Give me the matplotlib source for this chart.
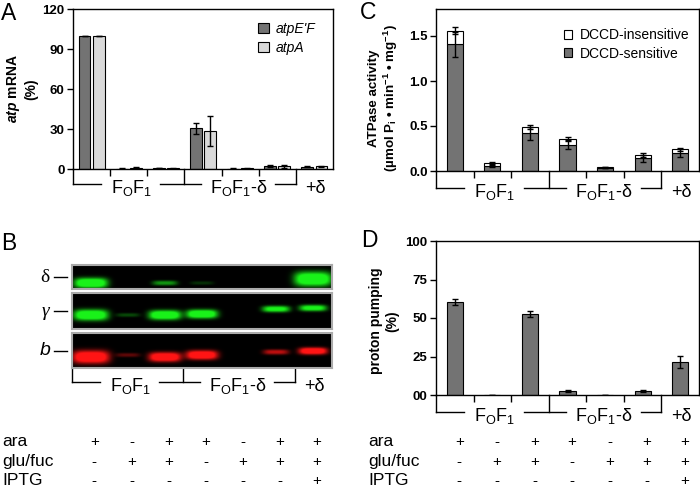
import numpy as np
import matplotlib
matplotlib.use("Agg")
import matplotlib.pyplot as plt
import matplotlib.transforms as mtransforms

plt.rcParams['font.family'] = ['Liberation Sans', 'DejaVu Sans']
plt.rcParams['mathtext.fontset'] = 'custom'
plt.rcParams['mathtext.rm'] = 'Liberation Sans'
plt.rcParams['mathtext.it'] = 'Liberation Sans:italic'
plt.rcParams['mathtext.bf'] = 'Liberation Sans:bold'
plt.rcParams['mathtext.bfit'] = 'Liberation Sans:bold:italic'

# ---- data ----
groups = np.arange(7)

# A: atp mRNA (%)
atpEF = [100, 0.3, 0.8, 30.5, 0.2, 2.0, 1.8]
atpEF_err = [0, 0.3, 0.3, 4.0, 0.2, 0.8, 0.5]
atpA = [100, 0.8, 0.6, 28.5, 0.4, 2.0, 2.0]
atpA_err = [0, 0.4, 0.3, 11.0, 0.2, 1.0, 0.6]

# C: ATPase activity
dccd_sens = [1.41, 0.06, 0.42, 0.29, 0.03, 0.14, 0.20]
dccd_sens_err = [0.14, 0.01, 0.07, 0.04, 0.0, 0.04, 0.04]
dccd_insens = [0.15, 0.03, 0.07, 0.07, 0.02, 0.04, 0.04]
total_err = [0.04, 0.01, 0.02, 0.02, 0.0, 0.02, 0.02]

# D: proton pumping (%)
pumping = [60.5, 0, 52.5, 2.5, 0, 2.7, 21.5]
pumping_err = [2.0, 0, 2.0, 0.7, 0, 0.5, 4.0]

# B: western blot band intensities and band row (px from strip top)
delta_int = [1.0, 0, 0.25, 0.08, 0, 0, 1.6]
delta_row = [18, 18, 18, 18, 18, 18, 14]
gamma_int = [1.1, 0.12, 0.9, 0.8, 0, 0.45, 0.45]
gamma_row = [22, 22, 22, 21, 20, 16, 15]
b_int = [1.4, 0.15, 0.9, 0.85, 0, 0.3, 0.55]
b_row = [24, 22, 24, 22, 20, 19, 18]

# growth conditions
ara = ['+', '-', '+', '+', '-', '+', '+']
glufuc = ['-', '+', '+', '-', '+', '+', '+']
iptg = ['-', '-', '-', '-', '-', '-', '+']
cond_names = ['ara', 'glu/fuc', 'IPTG']

FIG_W, FIG_H = 700, 488
fig = plt.figure(figsize=(7, 4.88), dpi=100)

dark = '#737373'
light = '#d9d9d9'


def px_axes(x0, y0, x1, y1):
    return fig.add_axes([x0 / FIG_W, 1 - y1 / FIG_H, (x1 - x0) / FIG_W, (y1 - y0) / FIG_H])


def style_bar_axes(ax):
    ax.set_xlim(-0.5, 6.5)
    ax.set_xticks([0.5, 1.5, 3.5, 4.5])
    ax.set_xticklabels([])
    ax.tick_params(axis='x', direction='out', length=5, width=1)
    ax.tick_params(axis='y', direction='out', length=4, width=1, labelsize=9.5, pad=2)
    for lab in ax.get_yticklabels():
        lab.set_fontweight('bold')
    for s in ax.spines.values():
        s.set_linewidth(1)


def bracket(ax, h_px, drop_px):
    yb = -drop_px / h_px
    tr = ax.get_xaxis_transform()
    kw = dict(transform=tr, clip_on=False, color='k', lw=1)
    for x in [-0.5, 2.5, 5.5]:
        ax.plot([x, x], [0, yb], **kw)
    for x0, x1 in [(-0.5, 0.25), (1.85, 2.95), (4.95, 5.5)]:
        ax.plot([x0, x1], [yb, yb], **kw)
    yt = yb - 9 / h_px
    ax.text(1.07, yt, r'F$_\mathrm{O}$F$_\mathrm{1}$', transform=tr, ha='center', va='baseline', fontsize=13)
    ax.text(3.97, yt, r'F$_\mathrm{O}$F$_\mathrm{1}$-δ', transform=tr, ha='center', va='baseline', fontsize=13)
    ax.text(6.02, yt, '+δ', transform=tr, ha='center', va='baseline', fontsize=13)


ebkw = dict(ecolor='k', elinewidth=1, capsize=2.5, capthick=1)

# ---- panel A ----
axA = px_axes(73, 9, 333, 169)
axA.bar(groups - 0.19, atpEF, 0.32, color=dark, edgecolor='k', linewidth=0.8,
        yerr=atpEF_err, error_kw=ebkw, label="atpE'F")
axA.bar(groups + 0.19, atpA, 0.32, color=light, edgecolor='k', linewidth=0.8,
        yerr=atpA_err, error_kw=ebkw, label='atpA')
axA.set_ylim(0, 120)
axA.set_yticks([0, 30, 60, 90, 120])
style_bar_axes(axA)
axA.legend(loc='upper left', bbox_to_anchor=(0.71, 0.92), frameon=False,
           handlelength=0.8, handleheight=0.8, handletextpad=0.5,
           labelspacing=0.35, borderpad=0, borderaxespad=0,
           prop={'style': 'italic', 'size': 10})
bracket(axA, 160, 15)
fig.text(22 / FIG_W, 1 - 89 / FIG_H, r'$\mathbfit{atp}$ mRNA' + '\n(%)', rotation=90,
         ha='center', va='center', fontsize=10, fontweight='bold', multialignment='center')

# ---- panel C ----
axC = px_axes(436, 9, 699, 171)
axC.bar(groups, dccd_sens, 0.43, color=dark, edgecolor='k', linewidth=0.8,
        label='DCCD-sensitive')
axC.bar(groups, dccd_insens, 0.43, bottom=dccd_sens, color='white', edgecolor='k',
        linewidth=0.8, label='DCCD-insensitive')
totals = np.array(dccd_sens) + np.array(dccd_insens)
axC.errorbar(groups, totals, yerr=total_err, fmt='none', **ebkw)
axC.errorbar(groups, dccd_sens, yerr=dccd_sens_err, fmt='none', **ebkw)
axC.set_ylim(0, 1.8)
axC.set_yticks([0, 0.5, 1.0, 1.5])
axC.set_yticklabels(['0.0', '0.5', '1.0', '1.5'])
style_bar_axes(axC)
hC, lC = axC.get_legend_handles_labels()
axC.legend(hC[::-1], lC[::-1], loc='upper left', bbox_to_anchor=(0.485, 0.88), frameon=False,
           handlelength=0.6, handleheight=0.6, handletextpad=0.6,
           labelspacing=0.3, borderpad=0, borderaxespad=0, fontsize=10)
bracket(axC, 162, 17)
fig.text(384 / FIG_W, 1 - 98 / FIG_H,
         'ATPase activity\n' + r'(µmol P$_\mathbf{i}$ • min$^\mathbf{-1}$ • mg$^\mathbf{-1}$)',
         rotation=90, ha='center', va='center', fontsize=9.6, fontweight='bold',
         multialignment='center')

# ---- panel D ----
axD = px_axes(436, 241, 699, 395)
axD.bar(groups, pumping, 0.43, color=dark, edgecolor='k', linewidth=0.8,
        yerr=pumping_err, error_kw=ebkw)
axD.set_ylim(0, 100)
axD.set_yticks([0, 25, 50, 75, 100])
axD.set_yticklabels(['00', '25', '50', '75', '100'])
style_bar_axes(axD)
bracket(axD, 154, 17)
fig.text(384 / FIG_W, 1 - 321 / FIG_H, 'proton pumping\n(%)', rotation=90,
         ha='center', va='center', fontsize=10, fontweight='bold', multialignment='center')


# ---- panel B: blots ----
def draw_blot(ax, intens, rows, color, h_px):
    scale = 4
    xs = np.linspace(-0.5, 6.5, 7 * 40)
    ys = (np.arange(h_px * scale) + 0.5) / scale
    X, Y = np.meshgrid(xs, ys)
    bright = np.zeros_like(X)
    for k, (I, r) in enumerate(zip(intens, rows)):
        if I <= 0:
            continue
        hw = min(0.3 + 0.15 * I, 0.5)
        hh = 1.5 + 3.5 * I
        prof = np.exp(-np.abs((X - k) / hw) ** 4) * np.exp(-np.abs((Y - r) / hh) ** 2.5)
        bright += min(1.0, 1.8 * I) * prof
    bright = np.clip(bright * 1.4, 0, 1)
    img = bright[..., None] * np.array(color)[None, None, :]
    ax.imshow(img, extent=(-0.5, 6.5, h_px, 0), aspect='auto', interpolation='bilinear')
    ax.set_xlim(-0.5, 6.5)
    ax.set_ylim(h_px, 0)
    ax.set_xticks([])
    ax.set_yticks([])
    for s in ax.spines.values():
        s.set_color('#aaaaaa')
        s.set_linewidth(1.5)


green = (0.1, 0.95, 0.1)
red = (1.0, 0.08, 0.08)
blots = [
    (265, 289, delta_int, delta_row, green, 'δ', dict(family=['Liberation Serif', 'DejaVu Serif'])),
    (293, 329, gamma_int, gamma_row, green, 'γ', dict(family=['Liberation Serif', 'DejaVu Serif'], style='italic')),
    (333, 368, b_int, b_row, red, 'b', dict(style='italic')),
]
blot_axes = []
for y0, y1, intens, rows, col, lab, fkw in blots:
    ax = px_axes(72, y0, 332, y1)
    draw_blot(ax, intens, rows, col, y1 - y0)
    blot_axes.append(ax)
    yc = 1 - ((y0 + y1) / 2) / FIG_H
    fig.text(45 / FIG_W, yc, lab, ha='center', va='center', fontsize=14, **fkw)
    fig.add_artist(plt.Line2D([54 / FIG_W, 67 / FIG_W], [yc, yc], color='k', lw=1))
bracket(blot_axes[-1], 35, 14)

# ---- panel letters ----
for lab, x, y in [('A', 1, 2), ('B', 1, 232), ('C', 360, 1), ('D', 361, 229)]:
    fig.text(x / FIG_W, 1 - y / FIG_H, lab, ha='left', va='top', fontsize=16.5)

# ---- growth condition table ----
rows_cond = [ara, glufuc, iptg]
baselines = [446, 466, 485]
for ax_ref, name_x, dx in [(blot_axes[-1], 2, 0.1), (axD, 368, 0.12)]:
    tr = mtransforms.blended_transform_factory(ax_ref.transData, fig.transFigure)
    for name, signs, yb in zip(cond_names, rows_cond, baselines):
        fig.text(name_x / FIG_W, 1 - yb / FIG_H, name, ha='left', va='baseline', fontsize=12.5)
        for g, s in zip(groups, signs):
            ax_ref.text(g + dx, 1 - yb / FIG_H, s, transform=tr, ha='center', va='baseline',
                        fontsize=11, clip_on=False)

fig.savefig('out.png', dpi=100)
